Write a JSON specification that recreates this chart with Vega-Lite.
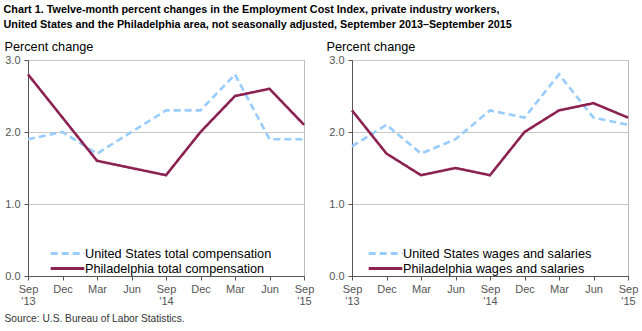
{
  "$schema": "https://vega.github.io/schema/vega-lite/v6.json",
  "background": "white",
  "padding": {"left": 3, "top": 3, "right": 5, "bottom": 3},
  "title": {
    "text": ["Chart 1. Twelve-month percent changes in the Employment Cost Index, private industry workers,", "United States and the Philadelphia area, not seasonally adjusted, September 2013–September 2015"],
    "anchor": "start",
    "frame": "bounds",
    "font": "Liberation Sans",
    "fontSize": 10.8,
    "fontWeight": "bold",
    "color": "#000000",
    "lineHeight": 15,
    "offset": 10
  },
  "datasets": {
    "total": [
      {"series": "United States total compensation", "period": "Sep '13", "value": 1.9},
      {"series": "United States total compensation", "period": "Dec '13", "value": 2.0},
      {"series": "United States total compensation", "period": "Mar '14", "value": 1.7},
      {"series": "United States total compensation", "period": "Jun '14", "value": 2.0},
      {"series": "United States total compensation", "period": "Sep '14", "value": 2.3},
      {"series": "United States total compensation", "period": "Dec '14", "value": 2.3},
      {"series": "United States total compensation", "period": "Mar '15", "value": 2.8},
      {"series": "United States total compensation", "period": "Jun '15", "value": 1.9},
      {"series": "United States total compensation", "period": "Sep '15", "value": 1.9},
      {"series": "Philadelphia total compensation", "period": "Sep '13", "value": 2.8},
      {"series": "Philadelphia total compensation", "period": "Dec '13", "value": 2.2},
      {"series": "Philadelphia total compensation", "period": "Mar '14", "value": 1.6},
      {"series": "Philadelphia total compensation", "period": "Jun '14", "value": 1.5},
      {"series": "Philadelphia total compensation", "period": "Sep '14", "value": 1.4},
      {"series": "Philadelphia total compensation", "period": "Dec '14", "value": 2.0},
      {"series": "Philadelphia total compensation", "period": "Mar '15", "value": 2.5},
      {"series": "Philadelphia total compensation", "period": "Jun '15", "value": 2.6},
      {"series": "Philadelphia total compensation", "period": "Sep '15", "value": 2.1}
    ],
    "wages": [
      {"series": "United States wages and salaries", "period": "Sep '13", "value": 1.8},
      {"series": "United States wages and salaries", "period": "Dec '13", "value": 2.1},
      {"series": "United States wages and salaries", "period": "Mar '14", "value": 1.7},
      {"series": "United States wages and salaries", "period": "Jun '14", "value": 1.9},
      {"series": "United States wages and salaries", "period": "Sep '14", "value": 2.3},
      {"series": "United States wages and salaries", "period": "Dec '14", "value": 2.2},
      {"series": "United States wages and salaries", "period": "Mar '15", "value": 2.8},
      {"series": "United States wages and salaries", "period": "Jun '15", "value": 2.2},
      {"series": "United States wages and salaries", "period": "Sep '15", "value": 2.1},
      {"series": "Philadelphia wages and salaries", "period": "Sep '13", "value": 2.3},
      {"series": "Philadelphia wages and salaries", "period": "Dec '13", "value": 1.7},
      {"series": "Philadelphia wages and salaries", "period": "Mar '14", "value": 1.4},
      {"series": "Philadelphia wages and salaries", "period": "Jun '14", "value": 1.5},
      {"series": "Philadelphia wages and salaries", "period": "Sep '14", "value": 1.4},
      {"series": "Philadelphia wages and salaries", "period": "Dec '14", "value": 2.0},
      {"series": "Philadelphia wages and salaries", "period": "Mar '15", "value": 2.3},
      {"series": "Philadelphia wages and salaries", "period": "Jun '15", "value": 2.4},
      {"series": "Philadelphia wages and salaries", "period": "Sep '15", "value": 2.2}
    ]
  },
  "spacing": 10,
  "hconcat": [
    {
      "width": 276,
      "height": 216,
      "data": {"name": "total"},
      "mark": {"type": "line", "strokeWidth": 2.6},
      "encoding": {
        "x": {
          "field": "period", "type": "ordinal", "sort": null,
          "scale": {"type": "point", "padding": 0},
          "axis": {
            "title": "Source: U.S. Bureau of Labor Statistics.",
            "titleX": -24, "titleY": 45, "titleAlign": "left", "titleAnchor": null,
            "titleBaseline": "alphabetic", "titleFontSize": 10.2, "titleFontWeight": "normal", "titleColor": "#333333",
            "labelExpr": "indexof(datum.value, 'Sep') == 0 ? split(datum.value, ' ') : slice(datum.value, 0, 3)"
          }
        },
        "y": {
          "field": "value", "type": "quantitative",
          "scale": {"domain": [0, 3]},
          "axis": {
            "values": [0, 1, 2, 3], "format": ".1f",
            "title": "Percent change",
            "titleX": -24, "titleY": -10
          }
        },
        "color": {
          "field": "series", "type": "nominal", "sort": null,
          "scale": {"domain": ["United States total compensation", "Philadelphia total compensation"], "range": ["#99CCFF", "#8B2252"]},
          "legend": {"orient": "none", "legendX": 32, "legendY": 186}
        },
        "strokeDash": {
          "field": "series", "type": "nominal", "sort": null,
          "scale": {"domain": ["United States total compensation", "Philadelphia total compensation"], "range": [[7, 4], [1, 0]]},
          "legend": {"orient": "none", "legendX": 32, "legendY": 186}
        }
      }
    },
    {
      "width": 276,
      "height": 216,
      "data": {"name": "wages"},
      "mark": {"type": "line", "strokeWidth": 2.6},
      "encoding": {
        "x": {
          "field": "period", "type": "ordinal", "sort": null,
          "scale": {"type": "point", "padding": 0},
          "axis": {
            "title": null,
            "labelExpr": "indexof(datum.value, 'Sep') == 0 ? split(datum.value, ' ') : slice(datum.value, 0, 3)"
          }
        },
        "y": {
          "field": "value", "type": "quantitative",
          "scale": {"domain": [0, 3]},
          "axis": {
            "values": [0, 1, 2, 3], "format": ".1f",
            "title": "Percent change",
            "titleX": -26, "titleY": -10
          }
        },
        "color": {
          "field": "series", "type": "nominal", "sort": null,
          "scale": {"domain": ["United States wages and salaries", "Philadelphia wages and salaries"], "range": ["#99CCFF", "#8B2252"]},
          "legend": {"orient": "none", "legendX": 26, "legendY": 186}
        },
        "strokeDash": {
          "field": "series", "type": "nominal", "sort": null,
          "scale": {"domain": ["United States wages and salaries", "Philadelphia wages and salaries"], "range": [[7, 4], [1, 0]]},
          "legend": {"orient": "none", "legendX": 26, "legendY": 186}
        }
      }
    }
  ],
  "resolve": {"scale": {"color": "independent", "strokeDash": "independent"}, "legend": {"color": "independent", "strokeDash": "independent"}},
  "config": {
    "font": "Liberation Sans",
    "view": {"stroke": "#BBBBBB", "strokeWidth": 1},
    "axisY": {
      "grid": true, "gridColor": "#C8C8C8",
      "domain": true, "domainColor": "#555555",
      "ticks": true, "tickColor": "#555555", "tickSize": 4,
      "labelPadding": 4, "labelFontSize": 11, "labelColor": "#555555",
      "titleAngle": 0, "titleAlign": "left", "titleBaseline": "alphabetic",
      "titleFontSize": 12.7, "titleFontWeight": "normal", "titleColor": "#000000"
    },
    "axisX": {
      "grid": false, "domainColor": "#555555", "tickColor": "#555555", "tickSize": 4,
      "labelAngle": 0, "labelPadding": 3, "labelFontSize": 11, "labelColor": "#555555", "labelLineHeight": 12
    },
    "legend": {
      "title": null,
      "symbolType": "M-2.8,0H2.8", "symbolSize": 144, "symbolStrokeWidth": 3,
      "labelFontSize": 12.7, "labelColor": "#000000", "labelOffset": 10,
      "rowPadding": -1, "labelLimit": 400
    }
  }
}
